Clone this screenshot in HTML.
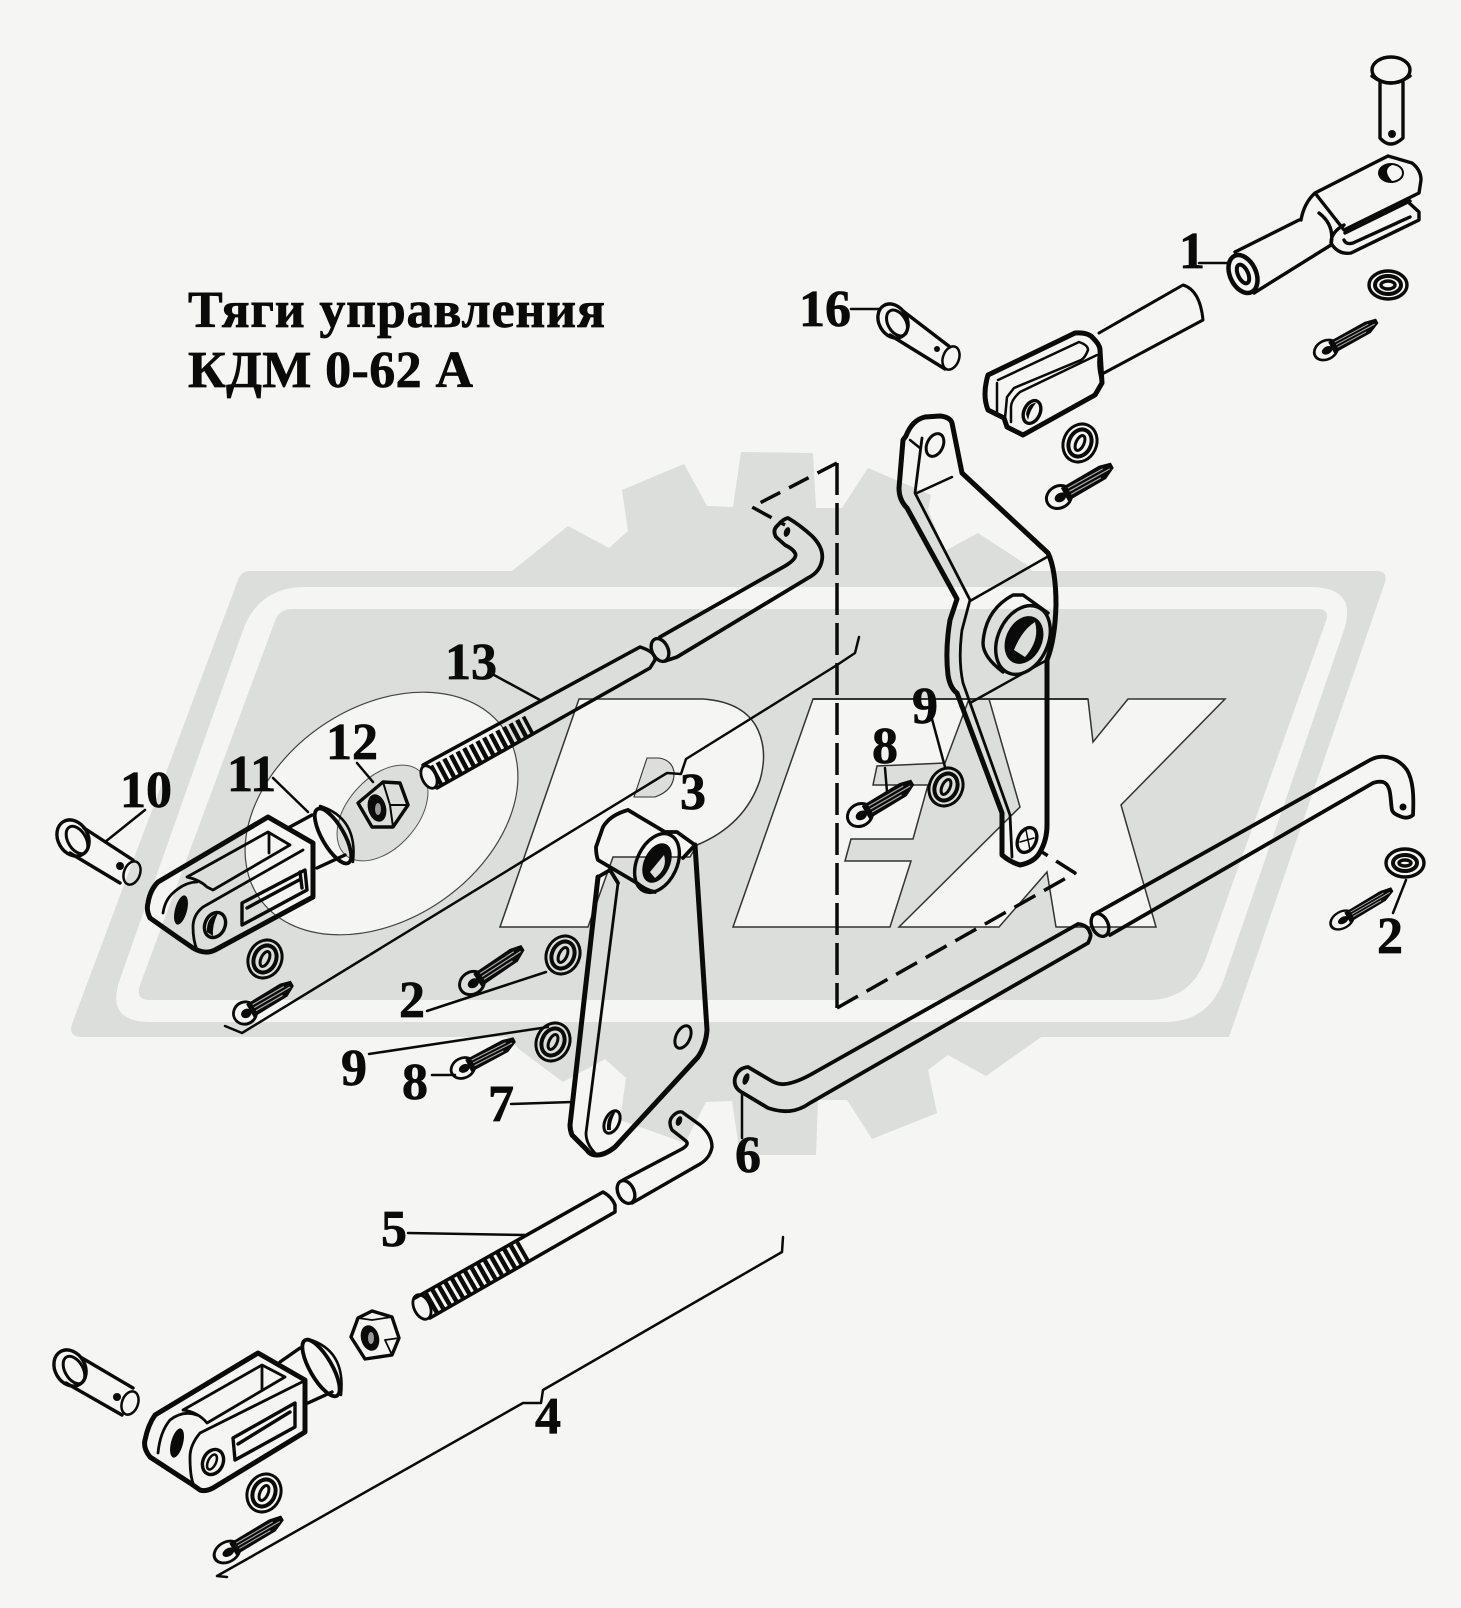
<!DOCTYPE html>
<html lang="ru"><head><meta charset="utf-8"><title>Тяги управления КДМ 0-62 А</title>
<style>html,body{margin:0;padding:0;background:#f5f5f3}svg{display:block}
text{font-family:"Liberation Serif","DejaVu Serif",serif;font-weight:bold;font-size:52px;fill:#0a0a0a;stroke:#0a0a0a;stroke-width:.7}
.p{fill:none;stroke:#0a0a0a;stroke-width:3.400;stroke-linejoin:round;stroke-linecap:round}
.t{stroke-width:5}.n{stroke-width:2}.l{stroke-width:2.500}.f{fill:#0a0a0a;stroke:none}
.d{stroke-dasharray:32 8;stroke-linecap:butt;stroke-width:3.500}</style></head><body>
<svg xmlns="http://www.w3.org/2000/svg" width="1461" height="1608" viewBox="0 0 1461 1608">
<defs>
<g id="cot"><ellipse cx="0" cy="0" rx="13" ry="11" fill="none" stroke="#0a0a0a" stroke-width="3"/><ellipse cx="1" cy="1" rx="6" ry="4.500" fill="#0a0a0a"/><path d="M6,-7 L50,-8 L62,-5 L62,1 L50,7 L6,8 Z" fill="#0a0a0a"/><path d="M12,-3.500 H52 M12,0 H58 M12,3.500 H46" stroke="#a8a8a8" stroke-width="1.200" fill="none"/></g>
<g id="was"><ellipse rx="16.500" ry="19.500" fill="none" stroke="#0a0a0a" stroke-width="3"/><ellipse rx="11" ry="14" fill="none" stroke="#0a0a0a" stroke-width="4"/><ellipse rx="4" ry="8" fill="none" stroke="#0a0a0a" stroke-width="3"/></g>
</defs>
<rect width="1461" height="1608" fill="#f5f5f3"/>
<!-- watermark -->
<g fill="#dcdedb">
<path d="M246,571 L1376,571 Q1388,571 1385,582 L1229,1037 L82,1037 Q68,1037 72,1024 L238,580 Q241,571 250,571 Z"/>
<polygon points="480,575 512,571 568,526 609,548 628,531 622,490 684,464 707,506 733,507 741,452 813,453 816,508 842,508 868,468 931,495 928,510 945,551 978,533 1027,565 1040,580 480,580"/>
<polygon points="500,1030 520,1050 563,1082 605,1059 626,1078 620,1120 685,1143 706,1102 732,1101 740,1155 816,1155 818,1100 847,1100 872,1139 937,1113 928,1070 948,1055 986,1076 1044,1035"/>
</g>
<path fill="#f5f5f3" d="M305,587 L1310,587 Q1358,587 1344,630 L1224,979 Q1209,1022 1165,1022 L150,1022 Q105,1022 120,979 L243,630 Q259,587 305,587 Z"/>
<path fill="#dcdedb" d="M292,609 L1318,609 Q1330,609 1326,621 L1206,958 Q1191,1000 1148,1000 L150,1000 Q135,1000 140,985 L275,621 Q279,609 292,609 Z"/>
<ellipse cx="381.500" cy="813.500" rx="148.600" ry="106" transform="rotate(-34.5 381.5 813.5)" fill="#f5f5f3" stroke="#444" stroke-width="1.200"/>
<ellipse cx="382.500" cy="813" rx="56" ry="35" transform="rotate(-48.4 382.5 813)" fill="#dcdedb" stroke="#555" stroke-width="1"/>
<g stroke="#333" stroke-width="1.500" fill="#f5f5f3" stroke-linejoin="miter">
<path d="M579,699 L703,699 Q745,702 758,730 Q768,752 760,780 Q745,825 697,845 L690,857 L613,857 L588,927 L500,927 Z"/>
<path fill="#dcdedb" stroke-width="1.100" d="M647,758 L659,758 Q672,760 674,772 Q675,790 655,797 L634,797 Z"/>
<polygon points="813,699 969,699 945,763 877,766 873,785 928,785 913,839 851,839 845,861 911,861 890,927 733,927"/>
<polygon points="989,699 1088,699 1093,742 1128,699 1225,699 1121,805 1156,927 1056,927 1047,872 999,927 899,927 1020,807"/>
<path d="M813,699 H1088" fill="none" stroke-width="2"/>
</g>
<!-- title -->
<text x="188" y="327" textLength="417">Тяги управления</text>
<text x="188" y="387" textLength="285" xml:space="preserve">КДМ 0-62 А</text>
<!-- numbers -->
<text x="1179" y="268">1</text><text x="799" y="326">16</text><text x="445" y="679">13</text><text x="326" y="759">12</text><text x="227" y="791">11</text><text x="120" y="807">10</text><text x="680" y="809">3</text><text x="912" y="723">9</text><text x="872" y="763">8</text><text x="1377" y="953">2</text><text x="399" y="1017">2</text><text x="341" y="1085">9</text><text x="402" y="1099">8</text><text x="488" y="1121">7</text><text x="735" y="1172">6</text><text x="381" y="1246">5</text><text x="535" y="1433">4</text>
<!-- leaders -->
<g class="p l">
<path d="M1199,263 H1228 M851,309 H880 M494,675 L540,700 M357,763 L373,782 M273,778 L308,812 M145,810 L105,842"/>
<path d="M427,1011 L546,972 M369,1054 L548,1027 M432,1075 H455 M511,1104 L572,1102 M742,1093 V1138 M408,1233 L525,1235"/>
<path d="M932,719 L945,767 M885,768 L887,792 M1393,913 L1406,880"/>
<path d="M225,1026 L242,1033 L667,773 L681,774 L686,759 L837,665 L855,653 L859,637"/>
<path d="M783,1237 L782,1252 L543,1390 L541,1403 L523,1403 L217,1576 L227,1577"/>
</g>
<!-- dashed -->
<g class="p d"><path d="M837,463 V1008"/><path stroke-dasharray="22 10" d="M837,463 L752,507 L785,525"/><path stroke-dasharray="24 10" d="M837,1008 L1075,873 L1042,852"/></g>
<!-- top right pin -->
<g class="p"><ellipse cx="1391" cy="70" rx="19" ry="13"/><path d="M1380,82 V138 Q1390,150 1403,138 V82 M1372,76 Q1390,90 1410,76"/><circle cx="1392" cy="134" r="4" class="f"/></g>
<!-- top right clevis -->
<g class="p">
<path d="M1301,220 Q1304,203 1315,193 L1376,162 L1388,156 L1412,163 Q1421,170 1421,180 L1419,193 L1344,230 L1315,193"/>
<path d="M1406,200 L1419,212 V220 L1351,253 Q1338,255 1331,243 Q1331,232 1344,225"/>
<path d="M1345,233 L1410,201 M1344,240 Q1346,245 1353,243 L1410,217"/>
<path d="M1235,252 L1299,220 M1254,293 L1331,245 M1319,213 Q1335,225 1331,245"/>
<ellipse cx="1391" cy="173" rx="12" ry="9" stroke-width="2"/><path class="f" d="M1379,173 Q1382,164 1392,165 Q1382,170 1392,181 Q1382,182 1379,173Z"/>
<ellipse cx="1243" cy="274" rx="13" ry="20" transform="rotate(-25 1243 274)" stroke-width="4.500"/><ellipse cx="1243" cy="274" rx="5" ry="10" transform="rotate(-25 1243 274)" stroke-width="4"/>
</g>
<g transform="translate(1388 285)"><ellipse rx="19" ry="14" class="p"/><ellipse rx="13" ry="9" class="p" style="stroke-width:4"/><ellipse rx="7" ry="4" class="p" stroke-width="2"/></g>
<use href="#cot" transform="translate(1326 350) rotate(-28) scale(.95 .85)"/>
<!-- upper left clevis -->
<g class="p">
<path d="M988,375 L1075,333 Q1088,332 1093,338 Q1100,345 1100,350 L1102,383 L1095,395 L1023,435 L1007,427 L1004,418 L988,410 Q982,395 988,375 Z" class="p t"/>
<path d="M1099,333 L1183,285 Q1200,290 1203,320 L1104,373" stroke-width="3"/>
<path stroke-width="2.500" d="M998,380 L1079,342 Q1088,345 1088,350 Q1085,358 1081,360 L1014,388 L1007,397 L1005,418 M997,383 V413 M1097,355 L1020,392 Q1011,400 1011,407 V422 M1100,350 Q1096,365 1102,383"/>
<ellipse cx="1032" cy="412" rx="8" ry="12" transform="rotate(25 1032 412)"/><path class="f" d="M1026,414 Q1028,403 1036,403 Q1030,410 1028,420Z"/>
</g>
<use href="#was" transform="translate(1080 443) rotate(25)"/>
<use href="#cot" transform="translate(1059 497) rotate(-29)"/>
<!-- pin 16 -->
<g class="p"><ellipse cx="893" cy="321" rx="14" ry="18" transform="rotate(-30 893 321)"/><ellipse cx="897" cy="323" rx="9" ry="14" transform="rotate(-30 897 323)" stroke-width="3"/><path d="M903,311 L950,347 M890,335 L945,369"/><ellipse cx="951" cy="358" rx="8" ry="12" transform="rotate(20 951 358)" stroke-width="2.500"/><circle cx="937" cy="349" r="3" class="f"/></g>
<!-- lever -->
<g class="p">
<path class="p t" d="M925,417 Q912,420 906,436 L903,440 L899,488 Q899,500 907,508 L957,599 L950,620 Q945,650 948,675 Q950,688 957,693 L1002,813 L1002,855 Q1010,862 1020,865 Q1035,862 1040,852 Q1047,840 1047,825 L1047,660 Q1055,640 1056,605 Q1056,570 1048,553 L962,473 L952,423 Q950,417 940,416 Z"/>
<path stroke-width="2.800" d="M922,438 L915,493 L970,600 L962,630 Q958,660 963,683 L1010,815 L1012,857"/>
<path stroke-width="2.500" d="M910,440 L920,448 M917,493 L952,477 M970,601 L1047,557 M970,703 L1047,660"/>
<path d="M1048,613 L1023,595 H1013 Q985,610 983,643 Q983,657 1003,672"/>
<ellipse cx="1023" cy="640" rx="25" ry="36" transform="rotate(25 1023 640)"/>
<ellipse cx="1024" cy="640" rx="18" ry="25" transform="rotate(25 1024 640)" class="f"/>
<path d="M1014,650 Q1022,630 1035,622 Q1040,640 1025,657 Z" fill="#dcdedb" stroke="none"/>
<ellipse cx="935" cy="445" rx="8" ry="12" transform="rotate(25 935 445)" stroke-width="3"/>
<ellipse cx="1027" cy="840" rx="9" ry="13" transform="rotate(25 1027 840)"/><path stroke-width="1.500" d="M1020,842 L1034,838 M1026,830 L1030,850"/>
</g>
<use href="#cot" transform="translate(860 815) rotate(-30)"/>
<use href="#was" transform="translate(946 787) rotate(25)"/>
<!-- rod 13 -->
<g class="p">
<line x1="434" y1="776" x2="530" y2="725" stroke-width="21" stroke-dasharray="4.500 3" stroke-linecap="butt"/>
<ellipse cx="429" cy="777" rx="7" ry="12" transform="rotate(-25 429 777)" stroke-width="2.800" fill="#f5f5f3"/>
<path stroke-width="3.500" d="M423,765 L640,647 Q656,652 655,660 L650,668 L437,788"/>
<ellipse cx="660" cy="650" rx="8" ry="12" transform="rotate(-25 660 650)"/>
<path stroke-width="3.800" d="M660,637 L785,566 Q798,558 795,553 Q793,549 785,545 L776,537 Q772,530 778,525 Q783,519 788,518 Q800,525 812,536 Q824,548 822,560 Q820,572 808,578 L677,657 L665,661"/>
<ellipse cx="787" cy="532" rx="3" ry="5" class="f" transform="rotate(20 787 532)"/>
</g>
<!-- left clevis -->
<g class="p">
<ellipse cx="73" cy="838" rx="15" ry="19" transform="rotate(-30 73 838)"/><ellipse cx="77" cy="840" rx="9" ry="15" transform="rotate(-30 77 840)" stroke-width="3"/>
<path d="M84,828 L133,860 M70,853 L120,883"/><ellipse cx="132" cy="873" rx="8" ry="12" transform="rotate(20 132 873)" stroke-width="2.500"/><circle cx="120" cy="866" r="4" class="f"/>
<path class="p t" d="M268,817 L313,843 V897 L215,950 Q205,955 193,948 L177,937 L150,918 Q146,910 148,903 Q150,890 158,882 Z"/>
<path stroke-width="2.800" d="M187,877 L268,832 L290,845 L213,890 L207,887 Q200,880 187,877 M269,833 V853 M303,850 L203,907 Q193,915 193,927 Q193,940 197,950 M163,913 Q165,900 173,893 Q185,882 197,882"/>
<path d="M242,903 L305,870 L307,890 L242,925 Z M247,908 L299,880 M300,872 L302,888"/>
<ellipse cx="215" cy="925" rx="10" ry="13" transform="rotate(25 215 925)"/><path class="f" d="M207,932 Q206,918 218,913 Q212,925 213,936Z"/>
<ellipse cx="181" cy="910" rx="6" ry="15" class="f" transform="rotate(15 181 910)"/>
<path d="M288,828 L312,815 M317,868 L345,855"/>
<ellipse cx="333" cy="836" rx="11" ry="31" transform="rotate(-30 333 836)" stroke-width="3.800"/><path stroke-width="2.500" d="M320,806 Q358,818 353,862"/>
<polygon points="383,782 400,783 408,805 393,827 372,827 358,803"/><path stroke-width="2" d="M383,782 L390,805 L408,805 M390,805 L393,827"/><ellipse cx="377" cy="808" rx="9" ry="14" class="f" transform="rotate(-15 377 808)"/><ellipse cx="378" cy="809" rx="3" ry="6" fill="#999" stroke="none"/>
</g>
<use href="#was" transform="translate(265 959) rotate(25)"/>
<use href="#cot" transform="translate(245 1013) rotate(-30) scale(.9 1)"/>
<!-- plate 7 -->
<g class="p">
<path class="p t" d="M695,845 L707,1030 Q706,1045 698,1057 L615,1147 Q605,1155 597,1155 Q590,1155 587,1150 L572,1135 Q570,1130 570,1125 L598,877"/>
<path stroke-width="2.800" d="M618,883 L586,1133 Q586,1145 597,1155"/>
<path stroke-width="3.800" d="M628,810 L665,832 M628,810 Q610,815 603,827 L596,847 Q596,855 598,860 L637,883 Q645,890 655,892 M665,832 L677,832 L695,845 L683,858 M598,877 L610,870 L618,883"/>
<ellipse cx="657" cy="863" rx="20" ry="31" transform="rotate(25 657 863)"/>
<ellipse cx="657" cy="863" rx="13" ry="21" transform="rotate(25 657 863)" class="f"/>
<path d="M650,872 L664,855 Q668,868 655,878Z" fill="#dcdedb" stroke="none"/>
<ellipse cx="683" cy="1037" rx="7" ry="12" transform="rotate(25 683 1037)" stroke-width="3"/><ellipse cx="612" cy="1122" rx="7" ry="12" transform="rotate(25 612 1122)" stroke-width="3"/><path class="f" d="M607,1130 Q606,1115 616,1111 Q610,1122 611,1130Z"/>
</g>
<use href="#was" transform="translate(563 955) rotate(25)"/>
<use href="#was" transform="translate(553 1042) rotate(25)"/>
<use href="#cot" transform="translate(472 983) rotate(-33)"/>
<use href="#cot" transform="translate(463 1068) rotate(-27) scale(.95 .9)"/>
<!-- rod 6 -->
<g class="p">
<path stroke-width="3.800" d="M1078,924 L810,1075 Q795,1083 785,1084 Q778,1085 770,1080 L748,1067 Q738,1068 735,1078 Q733,1088 743,1093 L768,1108 Q780,1112 790,1111 Q800,1110 810,1103 L1088,943 Q1092,935 1090,933 Q1088,925 1078,924"/>
<ellipse cx="746" cy="1079" rx="3" ry="6" class="f" transform="rotate(20 746 1079)"/>
<ellipse cx="1100" cy="925" rx="8" ry="12" transform="rotate(-25 1100 925)"/>
<path stroke-width="3.800" d="M1093,915 L1370,760 C1385,752 1400,760 1407,770 C1413,780 1414,795 1413,815 Q1408,819 1402,817 Q1393,814 1392,810 C1390,800 1392,785 1383,782 Q1378,781 1373,783 L1110,935"/>
<circle cx="1403" cy="807" r="3.500" class="f"/>
</g>
<g transform="translate(1405 863)"><ellipse rx="19" ry="14" class="p"/><ellipse rx="12" ry="8" class="p" style="stroke-width:4"/><ellipse rx="6" ry="3" class="p" stroke-width="1.500"/></g>
<use href="#cot" transform="translate(1342 920) rotate(-30) scale(.95 .75)"/>
<!-- rod 5 -->
<g class="p">
<line x1="423" y1="1308" x2="524" y2="1250" stroke-width="23" stroke-dasharray="4.500 3" stroke-linecap="butt"/>
<ellipse cx="422" cy="1307" rx="8" ry="13" transform="rotate(-25 422 1307)" stroke-width="2.800" fill="#f5f5f3"/>
<path stroke-width="3.500" d="M415,1298 L603,1192 Q612,1197 615,1205 V1212 L430,1318"/>
<ellipse cx="626" cy="1192" rx="8" ry="12" transform="rotate(-25 626 1192)"/>
<path d="M623,1180 L680,1150 Q690,1145 686,1141 L672,1130 Q668,1122 672,1117 Q677,1111 682,1112 L700,1125 Q712,1135 712,1147 Q710,1158 700,1164 L632,1203"/>
<ellipse cx="679" cy="1121" rx="3" ry="5" class="f" transform="rotate(20 679 1121)"/>
</g>
<!-- lower clevis -->
<g class="p">
<ellipse cx="70" cy="1368" rx="15" ry="19" transform="rotate(-30 70 1368)"/><ellipse cx="74" cy="1370" rx="9" ry="15" transform="rotate(-30 74 1370)" stroke-width="3"/>
<path d="M82,1358 L133,1388 M66,1383 L122,1415"/><ellipse cx="130" cy="1403" rx="8" ry="12" transform="rotate(20 130 1403)" stroke-width="2.500"/><circle cx="117" cy="1397" r="4" class="f"/>
<path class="p t" d="M258,1353 L305,1380 V1432 L213,1488 Q205,1492 200,1490 L190,1483 L173,1472 L150,1457 Q143,1448 145,1440 Q148,1425 155,1415 Z"/>
<path stroke-width="2.800" d="M183,1410 L262,1365 L285,1377 L207,1423 Q198,1412 183,1410 M262,1367 V1390 M302,1382 L200,1433 Q190,1445 190,1457 Q190,1475 193,1483 M158,1453 Q160,1432 170,1420 Q183,1410 197,1415"/>
<path d="M233,1438 L295,1403 V1427 L235,1460 Z M238,1444 L290,1412"/>
<ellipse cx="213" cy="1462" rx="10" ry="13" transform="rotate(25 213 1462)"/><ellipse cx="212" cy="1462" rx="4" ry="8" transform="rotate(25 212 1462)" stroke-width="2.500"/>
<ellipse cx="177" cy="1443" rx="6" ry="15" class="f" transform="rotate(15 177 1443)"/>
<path d="M280,1362 L300,1348 M308,1403 L332,1392"/>
<ellipse cx="321" cy="1368" rx="11" ry="32" transform="rotate(-30 321 1368)" stroke-width="3.800"/><path stroke-width="2.500" d="M308,1339 Q346,1350 341,1395"/>
<polygon points="372,1311 392,1317 399,1338 392,1355 365,1359 351,1337 358,1318"/><path stroke-width="1.800" d="M358,1318 L372,1320 L392,1317 M392,1355 L385,1340 L399,1338"/><ellipse cx="370" cy="1338" rx="9" ry="13" class="f" transform="rotate(-15 370 1338)"/><ellipse cx="371" cy="1338" rx="3" ry="6" fill="#999" stroke="none"/>
</g>
<use href="#was" transform="translate(264 1493) rotate(25)"/>
<use href="#cot" transform="translate(227 1552) rotate(-30) scale(1.05 .9)"/>
</svg></body></html>
